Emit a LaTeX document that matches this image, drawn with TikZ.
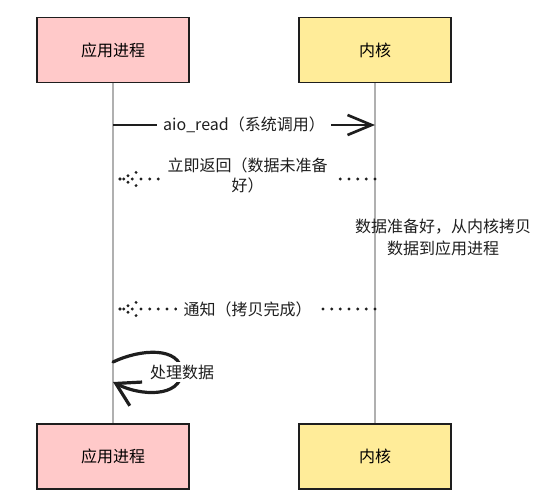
\documentclass[tikz,border=0pt]{standalone}
\usepackage{fontspec}
\setmainfont{Noto Sans CJK SC}
\usepackage{tikz}
\usetikzlibrary{arrows.meta,positioning,calc}
\definecolor{procpink}{HTML}{FFC9C9}
\definecolor{kernyellow}{HTML}{FFEC99}
\definecolor{lifegray}{HTML}{B0B0B0}
\definecolor{ink}{HTML}{1E1E1E}
\tikzset{
  box/.style={draw=ink, line width=1.4pt, align=center, font=\fontsize{12}{16}\selectfont, minimum width=114pt, minimum height=48.75pt, inner sep=3pt},
  proc/.style={box, fill=procpink},
  kern/.style={box, fill=kernyellow},
  life/.style={draw=lifegray, line width=1pt},
  call/.style={draw=ink, line width=2pt, -{Straight Barb[length=18pt, width=15pt]}},
  reply/.style={draw=ink, line width=2.4pt, line cap=round, dash pattern=on 0pt off 6.5pt},
  selfarr/.style={draw=ink, line width=2.4pt, line cap=round, -{Straight Barb[length=17pt, width=20pt]}},
  msg/.style={fill=white, align=center, font=\fontsize{12}{15}\selectfont, text=ink, inner xsep=5pt, inner ysep=2pt},
  note/.style={align=center, font=\fontsize{12}{16.5}\selectfont, text=ink}}
\begin{document}
\begin{tikzpicture}[x=0.75pt, y=-0.75pt, node distance=255pt]
  \useasboundingbox (0,0) rectangle (554,497);
  \node[proc] (app) at (113,50) {应用进程};
  \node[kern] (kern) at (375,50) {内核};
  \node[proc, below=of app] (app2) {应用进程};
  \node[kern, below=of kern] (kern2) {内核};
  \draw[life] (app) -- (app2);
  \draw[life] (kern) -- (kern2);
  \coordinate (p1) at (113,125); \coordinate (k1) at (375,125);
  \coordinate (t2) at (120,179); \coordinate (k2) at (375,179);
  \coordinate (t3) at (120,309); \coordinate (k3) at (375,309);
  \coordinate (s1) at (113,362); \coordinate (s2) at (113,382);
  \draw[call] (p1) -- (k1) node[msg, midway] {aio\_read（系统调用）};
  \draw[reply] (k2) -- (t2) node[msg, midway, yshift=3pt] {立即返回（数据未准备\\好）};
  \draw[reply] (t2) -- ++(22,-9);
  \draw[reply] (t2) -- ++(22,9);
  \node[note] (ready) at (443,237) {数据准备好，从内核拷贝\\数据到应用进程};
  \draw[reply] (k3) -- (t3) node[msg, midway] {通知（拷贝完成）};
  \draw[reply] (t3) -- ++(22,-9);
  \draw[reply] (t3) -- ++(22,9);
  \draw[selfarr] (s1) .. controls (140,349) and (180,346) .. (182,372) node[msg] (work) {处理数据}
    .. controls (180,398) and (140,396) .. (s2);
\end{tikzpicture}
\end{document}
